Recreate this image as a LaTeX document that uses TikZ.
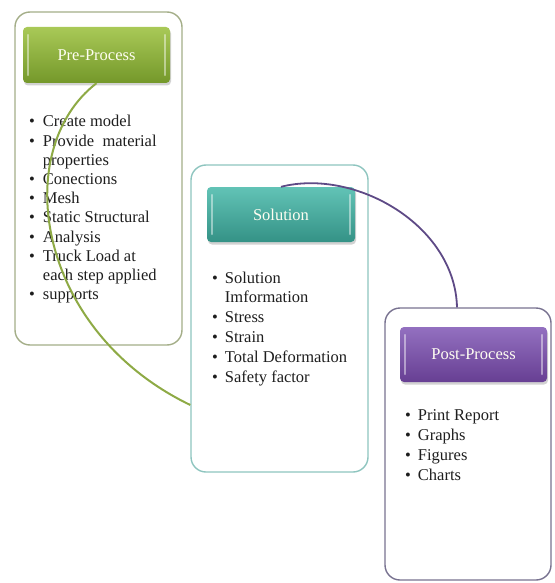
\documentclass[tikz,border=0pt]{standalone}
\usepackage{fontspec}
\setmainfont{Liberation Serif}
\usetikzlibrary{shadows}
\definecolor{gtop}{HTML}{A9C957}
\definecolor{gbot}{HTML}{74982A}
\definecolor{ttop}{HTML}{62C3B6}
\definecolor{tbot}{HTML}{349286}
\definecolor{ptop}{HTML}{9370C0}
\definecolor{pbot}{HTML}{673F93}
\definecolor{gborder}{HTML}{A4AE88}
\definecolor{tborder}{HTML}{8EC5BF}
\definecolor{pborder}{HTML}{787290}
\definecolor{gline}{HTML}{8EAA45}
\definecolor{pline}{HTML}{5E4A86}
\definecolor{txt}{HTML}{1E1E1E}
\tikzset{
  outerbox/.style={draw, line width=1.4pt, rounded corners=15pt, fill=white},
  headbox/.style={rounded corners=4pt, text=white!95!yellow,
     font=\fontsize{16.5}{19}\selectfont,
     drop shadow={opacity=0.35, shadow xshift=1pt, shadow yshift=-2.5pt}},
  bodytext/.style={anchor=base west, inner sep=0pt, text=txt, align=left},
  hl/.style={draw=white, line width=1.6pt, opacity=0.45, line cap=round},
  linkline/.style={line width=2pt}
}
\begin{document}
\begin{tikzpicture}[x=1pt,y=-1pt]
\useasboundingbox (0,0) rectangle (554,583);
% outer boxes
\node[outerbox, draw=gborder, minimum width=167pt, minimum height=333pt] (preouter) at (98.5,178.5) {};
\node[outerbox, draw=tborder, minimum width=177pt, minimum height=307pt] (solouter) at (279.5,318.5) {};
\node[outerbox, draw=pborder, minimum width=166pt, minimum height=272pt] (postouter) at (468,444) {};
% headers
\node[headbox, top color=gtop, bottom color=gbot, minimum width=147pt, minimum height=56pt] (prehead) at (96.5,55) {Pre-Process};
\node[headbox, top color=ttop, bottom color=tbot, minimum width=148pt, minimum height=55pt] (solhead) at (281,214.5) {Solution};
\node[headbox, top color=ptop, bottom color=pbot, minimum width=147pt, minimum height=55pt] (posthead) at (473.5,354.5) {Post-Process};
\foreach \h in {prehead,solhead,posthead}{
  \draw[hl] ([xshift=5pt,yshift=-8pt]\h.north west) -- ([xshift=5pt,yshift=8pt]\h.south west);
  \draw[hl] ([xshift=-5pt,yshift=-8pt]\h.north east) -- ([xshift=-5pt,yshift=8pt]\h.south east);
}
% body texts
\node[bodytext] (pretext) at (29,127) {\fontsize{16.5}{19.2}\selectfont
\begin{tabular}[t]{@{}l@{\hspace{8pt}}l@{}}
\textbullet & Create model\\
\textbullet & Provide\ \ material\\
 & properties\\
\textbullet & Conections\\
\textbullet & Mesh\\
\textbullet & Static Structural\\
\textbullet & Analysis\\
\textbullet & Truck Load at\\
 & each step applied\\
\textbullet & supports
\end{tabular}};
\node[bodytext] (soltext) at (212,283) {\fontsize{16.5}{19.8}\selectfont
\begin{tabular}[t]{@{}l@{\hspace{7pt}}l@{}}
\textbullet & Solution\\
 & Imformation\\
\textbullet & Stress\\
\textbullet & Strain\\
\textbullet & Total Deformation\\
\textbullet & Safety factor
\end{tabular}};
\node[bodytext] (posttext) at (405,420) {\fontsize{16.5}{20}\selectfont
\begin{tabular}[t]{@{}l@{\hspace{7pt}}l@{}}
\textbullet & Print Report\\
\textbullet & Graphs\\
\textbullet & Figures\\
\textbullet & Charts
\end{tabular}};
% connecting curves
\draw[linkline, draw=gline] (prehead.south) .. controls (10,150) and (35,330) .. (solouter.west |- 0,405);
\draw[linkline, draw=pline, line width=1.8pt] (solhead.north) .. controls (355,168) and (455,225) .. (457,0 |- postouter.north);
\end{tikzpicture}
\end{document}
